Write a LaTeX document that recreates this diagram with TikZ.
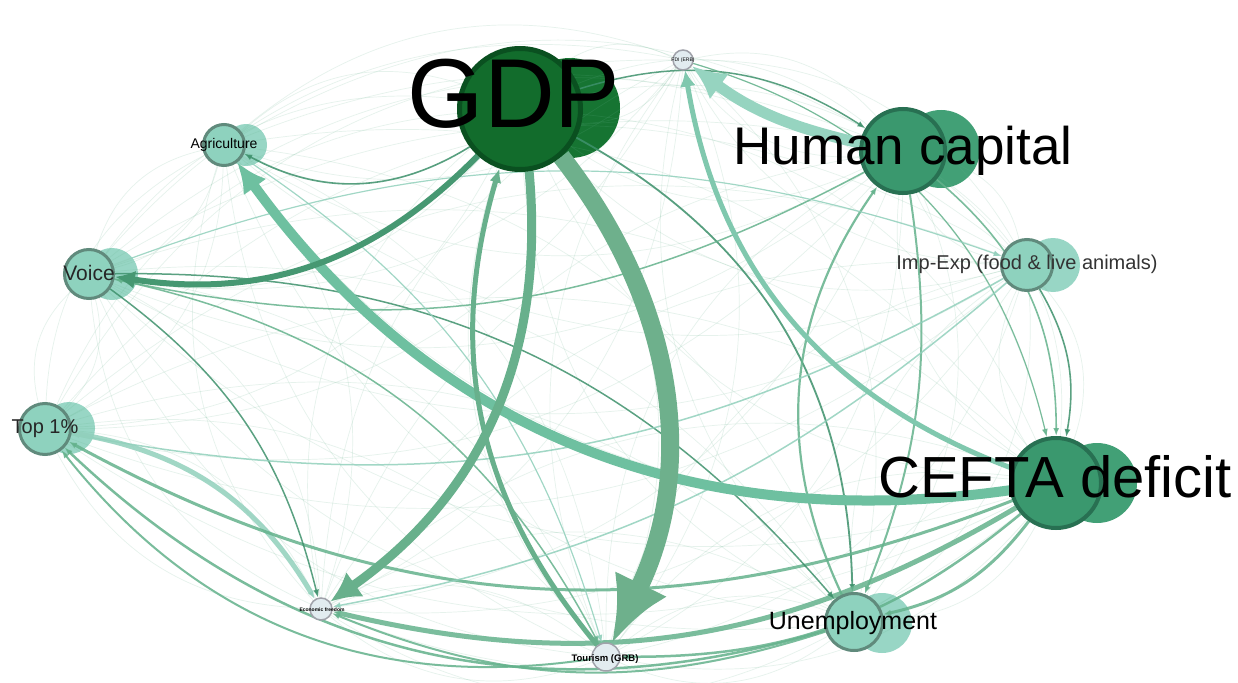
\documentclass[tikz,border=0pt]{standalone}
\usepackage{fontspec}
\setmainfont{Liberation Sans}
\usetikzlibrary{arrows.meta}
\definecolor{gdpfill}{RGB}{18,108,44}
\definecolor{gdpline}{RGB}{10,80,32}
\definecolor{gdpshadow}{RGB}{22,116,50}
\definecolor{midfill}{RGB}{58,152,110}
\definecolor{midline}{RGB}{40,112,82}
\definecolor{midshadow}{RGB}{66,160,118}
\definecolor{lightfill}{RGB}{142,210,190}
\definecolor{lightline}{RGB}{96,138,124}
\definecolor{lightshadow}{RGB}{152,214,197}
\definecolor{tinyfill}{RGB}{226,236,240}
\definecolor{tinyline}{RGB}{160,162,170}
\definecolor{edgeM}{RGB}{100,178,140}
\definecolor{edgeD}{RGB}{62,145,108}
\definecolor{edgeL}{RGB}{145,208,188}
\definecolor{edgeA}{RGB}{110,176,140}
\definecolor{edgeB}{RGB}{104,176,140}
\definecolor{edgeC}{RGB}{110,192,160}
\definecolor{edgeE}{RGB}{150,212,192}
\definecolor{edgeF}{RGB}{128,200,174}
\pgfdeclarelayer{shadowlayer}
\pgfdeclarelayer{edgelayer}
\pgfsetlayers{shadowlayer,edgelayer,main}
\begin{document}
\begin{tikzpicture}[x=1pt,y=-1pt,
  vtx/.style={circle,inner sep=0pt,draw},
  nbig/.style={vtx,fill=gdpfill,draw=gdpline,line width=5pt},
  nmid/.style={vtx,fill=midfill,draw=midline,line width=4pt},
  nlite/.style={vtx,fill=lightfill,draw=lightline,line width=3pt},
  ntiny/.style={vtx,fill=tinyfill,draw=tinyline,line width=1.5pt},
  shd/.style={circle,inner sep=0pt,minimum size=#1},
  lbl/.style={anchor=base,inner sep=0pt,text=black},
  efaint/.style={draw=edgeM,line width=0.7pt,opacity=0.16},
  emid/.style={line width=#1,opacity=0.85,-{Latex[length=8pt,width=6pt]}},
]
\begin{pgfonlayer}{shadowlayer}
\fill[white] (0,0) rectangle (1238,682);
\end{pgfonlayer}
\useasboundingbox (0,0) rectangle (1238,682);

% main nodes
\node[nbig, minimum size=121pt] (gdp) at (520,109) {};
\node[ntiny, minimum size=20pt] (fdi) at (683,60) {};
\node[nmid, minimum size=84pt] (hc) at (903,151) {};
\node[nlite, minimum size=51pt] (imp) at (1027,265) {};
\node[nmid, minimum size=90pt] (cefta) at (1056,483) {};
\node[nlite, minimum size=57pt] (unemp) at (854,622) {};
\node[ntiny, minimum size=28pt] (tour) at (606,657) {};
\node[ntiny, minimum size=22pt] (econ) at (321,609) {};
\node[nlite, minimum size=51pt] (top) at (45,429) {};
\node[nlite, minimum size=49pt] (voice) at (89,274) {};
\node[nlite, minimum size=41pt] (agri) at (224,145) {};

% shadows
\begin{pgfonlayer}{shadowlayer}
\node[shd=100pt, fill=gdpshadow] (gdpS) at (570,108) {};
\node[shd=78pt, fill=midshadow] (hcS) at (941,149) {};
\node[shd=54pt, fill=lightshadow] (impS) at (1053,265) {};
\node[shd=80pt, fill=midshadow] (ceftaS) at (1097,483) {};
\node[shd=60pt, fill=lightshadow] (unempS) at (882,623) {};
\node[shd=52pt, fill=lightshadow] (topS) at (69,428) {};
\node[shd=52pt, fill=lightshadow] (voiceS) at (112,274) {};
\node[shd=42pt, fill=lightshadow] (agriS) at (246,145) {};
\end{pgfonlayer}

\begin{pgfonlayer}{edgelayer}
% faint web
\foreach \a in {gdp,fdi,hc,imp,cefta,unemp,tour,econ,top,voice,agri}{
  \foreach \b in {gdp,fdi,hc,imp,cefta,unemp,tour,econ,top,voice,agri}{
    \ifx\a\b\else\draw[efaint] (\a) to[bend left=30] (\b);\fi
  }}
% medium edges
\draw[emid=1.8pt, draw=edgeD] (gdp) to[bend left=30] (unemp);
\draw[emid=2.2pt, draw=edgeM] (unemp) to[bend left=30] (hc);
\draw[emid=2pt, draw=edgeM] (hc) to[bend left=15] (unemp);
\draw[emid=1.6pt, draw=edgeD] (imp) to[bend left=20] (cefta);
\draw[emid=1.6pt, draw=edgeM] (hc) to[bend left=25] (cefta);
\draw[emid=1.5pt, draw=edgeD] (gdp) to[bend left=25] (hc);
\draw[emid=1.2pt, draw=edgeM] (fdi) to[bend left=30] (cefta);
\draw[emid=1.6pt, draw=edgeD] (gdp) to[bend left=30] (agri);
\draw[emid=5pt, draw=edgeL] (top) to[bend left=25] (econ);
\draw[emid=3pt, draw=edgeM] (cefta) to[bend left=25] (top);
\draw[emid=2.5pt, draw=edgeM] (unemp) to[bend left=30] (top);
\draw[emid=2pt, draw=edgeM] (tour) to[bend left=30] (top);
\draw[emid=5pt, draw=edgeM] (cefta) to[bend left=22] (econ);
\draw[emid=2pt, draw=edgeM] (unemp) to[bend left=20] (econ);
\draw[emid=3pt, draw=edgeM] (cefta) to[bend left=20] (unemp);
\draw[emid=2.5pt, draw=edgeM] (cefta) to[bend left=20] (tour);
\draw[emid=1.5pt, draw=edgeD] (voice) to[bend left=20] (econ);
\draw[emid=1.5pt, draw=edgeM] (voice) to[bend left=25] (tour);
\draw[emid=1.5pt, draw=edgeD] (voice) to[bend left=25] (unemp);
\draw[emid=1.5pt, draw=edgeM] (hc) to[bend left=20] (voice);
\draw[emid=1.5pt, draw=edgeL] (imp) to[bend left=15] (econ);
\draw[emid=1.5pt, draw=edgeL] (imp) to[bend left=20] (top);
\draw[emid=1.2pt, draw=edgeL] (voice) to[bend left=20] (imp);
\draw[emid=1.2pt, draw=edgeL] (agri) to[bend left=20] (tour);
% major edges
\draw[line width=5pt, draw=edgeF, -{Latex[length=16pt,width=16pt]}] (cefta) to[bend left=30] (fdi);
\draw[line width=11pt, draw=edgeE, -{Latex[length=34pt,width=32pt]}] (hc) to[bend left=12] (fdi);
\draw[line width=10pt, draw=edgeC, -{Latex[length=30pt,width=28pt]}] (cefta) to[bend left=31] (agri);
\draw[line width=6pt, draw=edgeD!80!edgeM, -{Latex[length=20pt,width=18pt]}] (gdp) to[bend left=27] (voice);
\draw[line width=5pt, draw=edgeB, -{Latex[length=14pt,width=12pt]}] (tour) to[bend left=28] (gdp);
\draw[line width=9pt, draw=edgeB, -{Latex[length=30pt,width=30pt]}] (gdp) to[bend left=30] (econ);
\draw[line width=18pt, draw=edgeA, -{Latex[length=66pt,width=58pt]}] (gdp) to[bend left=32] (tour);
\end{pgfonlayer}

% labels
\node[lbl,font=\fontsize{98}{98}\selectfont] (gdpL) at (514,128) {GDP};
\node[lbl,font=\fontsize{53}{53}\selectfont] (hcL) at (903,164) {Human capital};
\node[lbl,font=\fontsize{58}{58}\selectfont] (ceftaL) at (1055,497) {CEFTA deficit};
\node[lbl,font=\fontsize{20}{20}\selectfont,text=black!80] (impL) at (1027,269) {Imp-Exp (food \& live animals)};
\node[lbl,font=\fontsize{25}{25}\selectfont] (unempL) at (853,629) {Unemployment};
\node[lbl,font=\fontsize{21}{21}\selectfont,text=black!85] (voiceL) at (89,280) {Voice};
\node[lbl,font=\fontsize{20}{20}\selectfont,text=black!85] (topL) at (45,433) {Top 1\%};
\node[lbl,font=\fontsize{14}{14}\selectfont] (agriL) at (224,148) {Agriculture};
\node[lbl,font=\bfseries\fontsize{9.5}{9.5}\selectfont] (tourL) at (605,661) {Tourism (GRB)};
\node[lbl,font=\bfseries\fontsize{5}{5}\selectfont] (econL) at (322,611) {Economic freedom};
\node[lbl,font=\fontsize{5}{5}\selectfont] (fdiL) at (683,62) {FDI (ERB)};
\end{tikzpicture}
\end{document}
